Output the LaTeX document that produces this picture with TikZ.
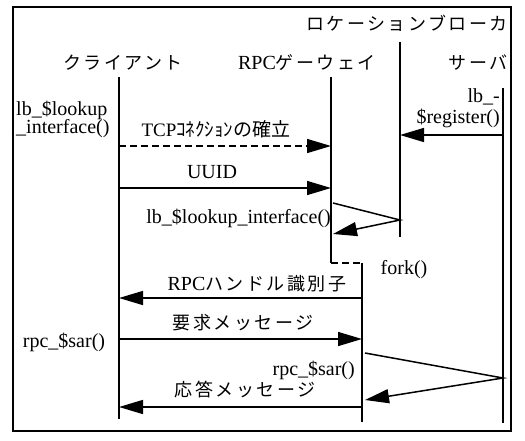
\documentclass[tikz,border=0pt]{standalone}
\usepackage{fontspec}
\setmainfont{Liberation Serif}
\newfontfamily\jpfont{Noto Sans CJK JP}[LetterSpace=14]
\newfontfamily\jpnarrow{Noto Sans CJK JP}
\usetikzlibrary{arrows.meta}
\newcommand{\jtext}[1]{{\jpfont\fontsize{18}{20}\selectfont #1}}
\newcommand{\jsmall}[1]{{\jpnarrow\fontsize{19}{20}\selectfont #1}}
\begin{document}
\begin{tikzpicture}[x=1pt,y=-1pt,
  life/.style={line width=1.8pt},
  msg/.style={line width=1.5pt,-{Triangle[length=24pt,width=14pt]}},
  dsh/.style={dash pattern=on 7pt off 4pt},
  lbl/.style={inner sep=0pt,font=\fontsize{20}{22}\selectfont}]
\useasboundingbox (0,0) rectangle (525,440);
\draw[line width=1.2pt] (13,7) rectangle (511,431);
% lifelines
\coordinate (c1) at (119,77);  \coordinate (c2) at (119,419);
\coordinate (g1) at (331,77);  \coordinate (g2) at (331,263);
\coordinate (f1) at (362,263); \coordinate (f2) at (362,422);
\coordinate (b1) at (400,42);  \coordinate (b2) at (400,237);
\coordinate (s1) at (503,88);  \coordinate (s2) at (503,423);
\draw[life] (c1) -- (c2);
\draw[life] (g1) -- (g2);
\draw[life] (f1) -- (f2);
\draw[life] (b1) -- (b2);
\draw[life] (s1) -- (s2);
\draw[line width=1.5pt,dsh] (g2) -- (f1);
% message points
\coordinate (sReg) at (503,135); \coordinate (bReg) at (400,135);
\coordinate (cTcp) at (119,146); \coordinate (gTcp) at (331,146);
\coordinate (cU) at (119,188);   \coordinate (gU) at (331,188);
\coordinate (gL1) at (333,203);  \coordinate (bL) at (400,220); \coordinate (gL2) at (333,234);
\coordinate (fH) at (362,298);   \coordinate (cH) at (119,298);
\coordinate (cR) at (119,339);   \coordinate (fR) at (362,339);
\coordinate (fS1) at (365,353);  \coordinate (sS) at (503,378); \coordinate (fS2) at (365,400);
\coordinate (fA) at (362,407);   \coordinate (cA) at (119,407);
\draw[msg] (sReg) -- (bReg);
\draw[msg,dsh] (cTcp) -- (gTcp);
\draw[msg] (cU) -- (gU);
\draw[msg] (gL1) -- (bL) -- (gL2);
\draw[msg] (fH) -- (cH);
\draw[msg] (cR) -- (fR);
\draw[msg] (fS1) -- (sS) -- (fS2);
\draw[msg] (fA) -- (cA);
% labels
\node[lbl,anchor=east] (tBroker) at (508,23) {\jtext{ロケーションブローカ}};
\node[lbl] (tClient) at (123,63) {\jtext{クライアント}};
\node[lbl] (tGate) at (307,63) {RPC\jtext{ゲーウェイ}};
\node[lbl,anchor=east] (tServer) at (508,63) {\jtext{サーバ}};
\node[lbl,anchor=west] (lLook1) at (16,110) {lb\_\$lookup};
\node[lbl,anchor=west] (lLook2) at (16,129) {\_interface()};
\node[lbl,anchor=east] (lReg1) at (500,97) {lb\_-};
\node[lbl,anchor=east] (lReg2) at (500,118) {\$register()};
\node[lbl] (lTcp) at (216,129) {{\fontsize{19}{20}\selectfont TCP}\jsmall{ｺﾈｸｼｮﾝの確立}};
\node[lbl] (lUuid) at (212,172) {UUID};
\node[lbl,anchor=east] (lLook3) at (331,218) {lb\_\$lookup\_interface()};
\node[lbl] (lFork) at (404,270) {fork()};
\node[lbl] (lHandle) at (257,284) {RPC\jtext{ハンドル識別子}};
\node[lbl] (lReq) at (243,323) {\jtext{要求メッセージ}};
\node[lbl] (lSar1) at (64,342) {rpc\_\$sar()};
\node[lbl,anchor=east] (lSar2) at (355,370) {rpc\_\$sar()};
\node[lbl] (lAns) at (245,390) {\jtext{応答メッセージ}};
\end{tikzpicture}
\end{document}
